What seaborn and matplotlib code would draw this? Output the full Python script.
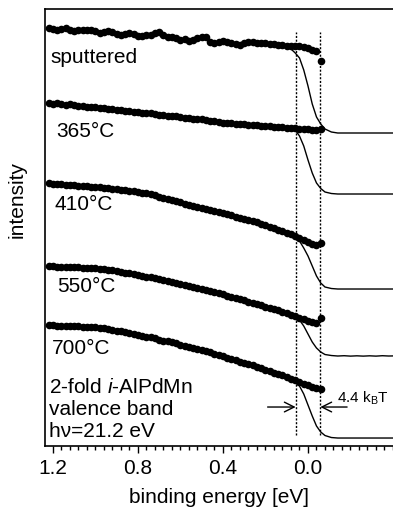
import numpy as np
import pandas as pd
import matplotlib
matplotlib.use("Agg")
import matplotlib.pyplot as plt
import seaborn as sns
from matplotlib.ticker import FixedLocator, MultipleLocator

# measured spectra (binding energy in eV, intensity in arbitrary units, offset per anneal)
energy = [1.22, 1.20, 1.18, 1.16, 1.14, 1.12, 1.10, 1.08, 1.06, 1.04,
          1.02, 1.00, 0.98, 0.96, 0.94, 0.92, 0.90, 0.88, 0.86, 0.84,
          0.82, 0.80, 0.78, 0.76, 0.74, 0.72, 0.70, 0.68, 0.66, 0.64,
          0.62, 0.60, 0.58, 0.56, 0.54, 0.52, 0.50, 0.48, 0.46, 0.44,
          0.42, 0.40, 0.38, 0.36, 0.34, 0.32, 0.30, 0.28, 0.26, 0.24,
          0.22, 0.20, 0.18, 0.16, 0.14, 0.12, 0.10, 0.08, 0.06, 0.04,
          0.02, 0.00, -0.02, -0.04, -0.06]

sputtered = [417.5, 417, 416, 416.5, 417.5, 416, 414.5, 415.5, 416, 415.5,
             416, 414.5, 413, 413.5, 414.5, 414, 412, 411, 412, 413,
             412, 410, 409.5, 410.5, 410.5, 413, 414, 411, 409, 408.5,
             408, 406, 406.5, 404.5, 405.5, 408, 409, 408.5, 403.5, 403,
             404, 404.5, 403.5, 402.5, 402, 401, 403, 404, 403.5, 402.5,
             403, 402.5, 402, 401.5, 401, 400.5, 400, 400, 400, 399.5,
             399, 398, 396, 395, 384.5]

t365 = [342.5, 342, 342.5, 341.5, 341, 341.5, 340.5, 340, 340, 339,
        339, 338.5, 337.5, 338, 337, 336.5, 336, 336, 335, 334.5,
        334, 334, 333, 332.5, 332.5, 331.5, 331, 331, 330, 329.5,
        329.5, 328.5, 328, 328, 327, 326.5, 326.5, 325.5, 325, 325,
        324, 323.5, 323.5, 323, 322.5, 322, 322, 321.5, 321, 321,
        320.5, 320, 320, 319.5, 319, 319, 318.5, 318.5, 318, 317.5,
        317, 317, 316.5, 316, 317]

t410 = [263, 262.5, 262, 262, 261.5, 261, 261, 260.5, 260, 260,
        259.5, 259, 259, 258.5, 258, 257.5, 257, 256.5, 256, 255.5,
        255, 254.5, 253.5, 253, 252, 251, 249.5, 248.5, 247, 246,
        245, 244, 242.5, 241.5, 240.5, 239.5, 238.5, 237.5, 236.5, 235.5,
        234, 233, 232, 231, 229.5, 228.5, 227.5, 226.5, 225, 224,
        222.5, 221, 219.5, 218, 216.5, 215, 213.5, 212, 210, 208,
        206, 204, 202, 201, 203]

t550 = [180, 180, 179.5, 179.5, 179.5, 179, 179, 179, 178.5, 178.5,
        178, 178, 177.5, 177, 176.5, 176, 175, 174.5, 173.5, 173,
        172, 171, 170.5, 169.5, 169, 168, 167, 166, 165.5, 164.5,
        163.5, 162.5, 161.5, 160.5, 159.5, 158.5, 157.5, 156.5, 155.5, 154,
        153, 152, 150.5, 149.5, 148.5, 147, 146, 144.5, 143.5, 142,
        141, 139.5, 138.5, 137, 136, 134.5, 133, 131.5, 130, 128.5,
        127, 125.5, 124, 123, 128]

t700 = [121, 121, 120.5, 120.5, 120.5, 120, 120, 120, 119.5, 119.5,
        119, 119, 118.5, 118, 117.5, 116.5, 115.5, 115, 114, 113.5,
        112, 111, 110.5, 109.5, 109, 108, 106.5, 105.5, 105, 104,
        103, 101.5, 100.5, 99.5, 98.5, 97.5, 96, 95, 94, 92.5,
        91.5, 90, 88.5, 87.5, 86.5, 84.5, 83.5, 82, 81, 79,
        78, 76.5, 75.5, 73.5, 72.5, 71, 69.5, 67.5, 66, 64.5,
        62.5, 61, 59.5, 58.5, 57.5]

# Fermi edge fits
fit_energy = [0.085, 0.06, 0.04, 0.02, 0.0, -0.02, -0.04, -0.06, -0.08, -0.11,
              -0.14, -0.17, -0.20, -0.23, -0.26, -0.29, -0.32, -0.35, -0.38, -0.40]
fit_sputtered = [398, 393, 388, 376, 360, 342, 329, 322, 317, 314,
                 313, 313, 313, 313, 313, 313, 313, 313, 313, 313]
fit_365 = [318.5, 316, 310, 300, 286, 273, 263, 257.5, 254, 252.5,
           252, 252, 252, 252, 252, 252, 252, 252, 252, 252]
fit_410 = [213, 209, 205, 198, 190, 180, 170, 163, 159, 157.5,
           157, 157, 157, 157, 157, 157, 157, 157, 157, 157]
fit_550 = [132.5, 129.5, 126, 120, 112, 104, 98, 94, 91.5, 90.5,
           90, 90.3, 89.9, 90.2, 89.9, 90.2, 89.9, 90.3, 90, 90.1]
fit_700 = [67.5, 64, 60, 52, 41, 30, 20, 14, 10.5, 8.5,
           8, 8, 8, 8, 8, 8, 8, 8, 8, 8]

names = ["sputtered", "365", "410", "550", "700"]
spectra = [sputtered, t365, t410, t550, t700]
fits = [fit_sputtered, fit_365, fit_410, fit_550, fit_700]

df = pd.DataFrame({
    "energy": energy * len(names),
    "intensity": sum(spectra, []),
    "spectrum": [n for n in names for _ in energy],
})
fit_df = pd.DataFrame({
    "energy": fit_energy * len(names),
    "intensity": sum(fits, []),
    "spectrum": [n for n in names for _ in fit_energy],
})

sns.set_style("ticks")
plt.rcParams["font.family"] = ["Liberation Sans", "DejaVu Sans"]
plt.rcParams["mathtext.fontset"] = "custom"
plt.rcParams["mathtext.rm"] = "Liberation Sans"
plt.rcParams["mathtext.it"] = "Liberation Sans:italic"
for key in ["text.color", "axes.labelcolor", "xtick.color", "ytick.color", "axes.edgecolor"]:
    plt.rcParams[key] = "black"

fig = plt.figure(figsize=(3.93, 5.08), dpi=100)
ax = fig.add_axes([0.1145, 0.122, 0.8855, 0.8603])

sns.lineplot(data=fit_df, x="energy", y="intensity", units="spectrum",
             estimator=None, sort=False, color="black", lw=1.0, ax=ax)
sns.scatterplot(data=df, x="energy", y="intensity", color="black",
                s=30, linewidth=0, zorder=3, legend=False, ax=ax)

# 4.4 kBT window
for xv in [0.058, -0.058]:
    ax.plot([xv, xv], [11, 414], color="black", lw=1.0, ls=(0, (1.5, 1.2)))
ax.annotate("", xy=(0.058, 39), xytext=(0.19, 39),
            arrowprops=dict(arrowstyle="->,head_length=0.5,head_width=0.25",
                            lw=1.0, color="black", shrinkA=0, shrinkB=0,
                            mutation_scale=14))
ax.annotate("", xy=(-0.058, 39), xytext=(-0.184, 39),
            arrowprops=dict(arrowstyle="->,head_length=0.5,head_width=0.25",
                            lw=1.0, color="black", shrinkA=0, shrinkB=0,
                            mutation_scale=14))
ax.text(-0.136, 43, r"4.4 k$_\mathrm{B}$T", fontsize=11, ha="left", va="baseline")

fs = 15
ax.text(1.214, 383, "sputtered", fontsize=fs, va="baseline")
ax.text(1.186, 309, "365°C", fontsize=fs, va="baseline")
ax.text(1.191, 236, "410°C", fontsize=fs, va="baseline")
ax.text(1.181, 154, "550°C", fontsize=fs, va="baseline")
ax.text(1.205, 92, "700°C", fontsize=fs, va="baseline")
ax.text(1.219, 53, r"2-fold $\mathit{i}$-AlPdMn", fontsize=fs, va="baseline")
ax.text(1.219, 31, "valence band", fontsize=fs, va="baseline")
ax.text(1.219, 9, "hν=21.2 eV", fontsize=fs, va="baseline")

ax.set_xlim(1.2376, -0.40)
ax.set_ylim(0, 437)
ax.xaxis.set_major_locator(FixedLocator([1.2, 0.8, 0.4, 0.0]))
ax.xaxis.set_minor_locator(MultipleLocator(0.04))
ax.tick_params(axis="x", which="major", direction="out", length=5, width=1,
               labelsize=fs, pad=4, colors="black")
ax.tick_params(axis="x", which="minor", direction="out", length=3, width=1)
ax.set_yticks([])
ax.spines["right"].set_visible(False)
for side in ["left", "top", "bottom"]:
    ax.spines[side].set_linewidth(1.2)
    ax.spines[side].set_color("black")

ax.set_xlabel("binding energy [eV]", fontsize=fs)
ax.set_ylabel("intensity", fontsize=fs)
ax.xaxis.set_label_coords(0.5, -0.096)
ax.yaxis.set_label_coords(-0.052, 0.563)

fig.savefig("out.png", dpi=100)
